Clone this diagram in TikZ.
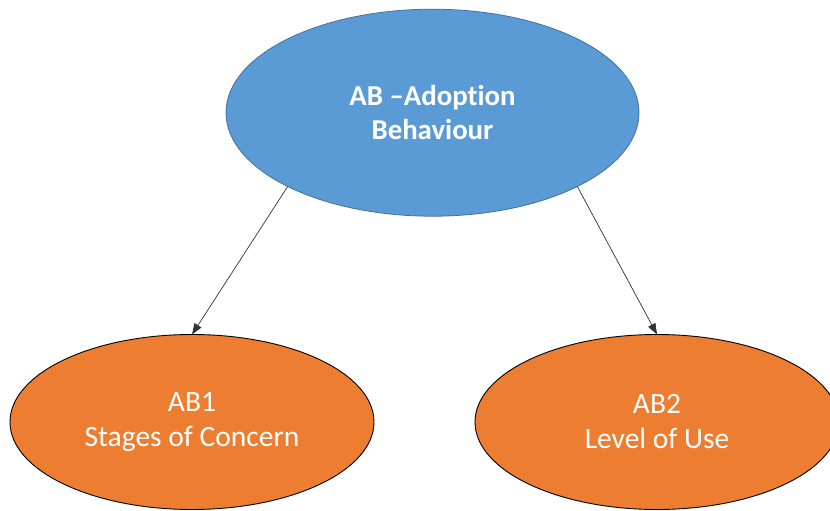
\documentclass[tikz,border=0pt]{standalone}
\usepackage{fontspec}
\setmainfont{Carlito}[Ligatures=CommonOff]
\usetikzlibrary{shapes.geometric,arrows.meta}
\definecolor{topblue}{HTML}{5B9BD5}
\definecolor{topedge}{HTML}{41719C}
\definecolor{leaforange}{HTML}{ED7D31}
\tikzset{
  mainnode/.style={ellipse, draw=topedge, line width=0.8pt, fill=topblue,
    minimum width=413pt, minimum height=207pt, inner sep=0pt, outer sep=0pt,
    text=white, align=center, font=\bfseries\fontsize{28.8}{34}\selectfont},
  leafnode/.style={ellipse, draw=black, line width=0.9pt, fill=leaforange,
    minimum width=364pt, minimum height=175pt, inner sep=0pt, outer sep=0pt,
    text=white, align=center, font=\fontsize{29.5}{35}\selectfont},
  link/.style={draw=black!80, line width=0.7pt,
    -{Triangle[length=11pt,width=8pt]}}
}
\begin{document}
\begin{tikzpicture}[x=1pt,y=-1pt]
  \useasboundingbox (0,0) rectangle (830,511);
  \clip (0,0) rectangle (830,511);
  \node[mainnode] (ab) at (432.5,112.7) {AB –Adoption\\Behaviour};
  \node[leafnode] (ab1) at (192,422) {AB1\\Stages of Concern};
  \node[leafnode] (ab2) at (657,422) {AB2\\Level of Use};
  \draw[link] (ab.207) -- (ab1.north);
  \draw[link] (ab.333) -- (ab2.north);
\end{tikzpicture}
\end{document}
